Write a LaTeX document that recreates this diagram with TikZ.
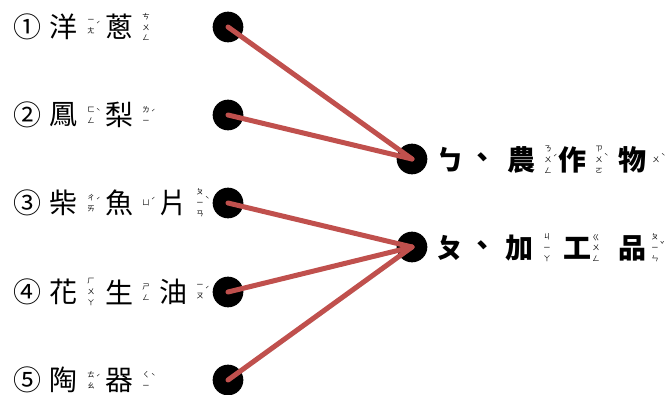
\documentclass[tikz,border=0pt]{standalone}
\usepackage{fontspec}
\usepackage{tikz}
\usetikzlibrary{calc}
\newfontfamily\cjk{Noto Sans CJK TC}
\definecolor{lnred}{rgb}{0.753,0.314,0.302}
\tikzstyle{every node}=[font=\cjk]
% one character, then its zhuyin stack and tone
\newcommand{\hz}[4]{\node [han] (#1) at (#2,#3) {#4};}
\newcommand{\zy}[5]{\node [zhu] (#1) at (#2,#3) {#4};
  \node [tonemark] (#1t) at ($(#1.east)+(1,-3)$) {#5};}

\begin{document}
\begin{tikzpicture}[line cap=round,line join=round,x=0.75pt,y=-0.75pt,
  han/.style={font=\cjk\fontsize{21}{21}\selectfont,inner sep=0pt},
  hanb/.style={han,font=\cjk\bfseries\fontsize{21}{21}\selectfont},
  zhu/.style={font=\cjk\fontsize{5.5}{8.2}\selectfont,align=center,inner sep=0pt},
  tonemark/.style={font=\cjk\fontsize{5.5}{7}\selectfont,anchor=west,inner sep=0pt},
  dot/.style={circle,fill=black,minimum size=23pt,inner sep=0pt},
  link/.style={line width=3.75pt,color=lnred,
    preaction={draw=black!45,opacity=.35,transform canvas={shift={(1.2pt,-1.2pt)}}}}]
\useasboundingbox (0,0) rectangle (671,395);
% left column
\hz{n1}{27}{27}{①} \hz{c11}{63}{27}{洋} \zy{z11}{91}{27}{ㄧ\\ㄤ}{ˊ} \hz{c12}{119}{27}{蔥} \zy{z12}{146}{27}{ㄘ\\ㄨ\\ㄥ}{}
\hz{n2}{27}{115}{②} \hz{c21}{63}{115}{鳳} \zy{z21}{91}{115}{ㄈ\\ㄥ}{ˋ} \hz{c22}{119}{115}{梨} \zy{z22}{146}{115}{ㄌ\\ㄧ}{ˊ}
\hz{n3}{27}{203}{③} \hz{c31}{63}{203}{柴} \zy{z31}{91}{203}{ㄔ\\ㄞ}{ˊ} \hz{c32}{119}{203}{魚} \zy{z32}{146}{203}{ㄩ}{ˊ}
\hz{c33}{173}{203}{片} \zy{z33}{200}{203}{ㄆ\\ㄧ\\ㄢ}{ˋ}
\hz{n4}{27}{292}{④} \hz{c41}{63}{292}{花} \zy{z41}{91}{292}{ㄏ\\ㄨ\\ㄚ}{} \hz{c42}{119}{292}{生} \zy{z42}{146}{292}{ㄕ\\ㄥ}{}
\hz{c43}{173}{292}{油} \zy{z43}{200}{292}{ㄧ\\ㄡ}{ˊ}
\hz{n5}{27}{380}{⑤} \hz{c51}{63}{380}{陶} \zy{z51}{91}{380}{ㄊ\\ㄠ}{ˊ} \hz{c52}{119}{380}{器} \zy{z52}{146}{380}{ㄑ\\ㄧ}{ˋ}
% right column
\node [hanb] (ka) at (450,160) {ㄅ}; \node [hanb] (ca) at (482,160) {、};
\node [hanb] (r11) at (521,160) {農}; \zy{y11}{548}{160}{ㄋ\\ㄨ\\ㄥ}{ˊ}
\node [hanb] (r12) at (572,160) {作}; \zy{y12}{599}{160}{ㄗ\\ㄨ\\ㄛ}{ˋ}
\node [hanb] (r13) at (632,160) {物}; \zy{y13}{656}{160}{ㄨ}{ˋ}
\node [hanb] (kb) at (450,248) {ㄆ}; \node [hanb] (cb) at (482,248) {、};
\node [hanb] (r21) at (519,248) {加}; \zy{y21}{547}{248}{ㄐ\\ㄧ\\ㄚ}{}
\node [hanb] (r22) at (577,248) {工}; \zy{y22}{596}{248}{ㄍ\\ㄨ\\ㄥ}{}
\node [hanb] (r23) at (632,248) {品}; \zy{y23}{655}{248}{ㄆ\\ㄧ\\ㄣ}{ˇ}
% dots
\node [dot] (d1) at (228,27) {};
\node [dot] (d2) at (228,115) {};
\node [dot] (d3) at (228,203) {};
\node [dot] (d4) at (228,292) {};
\node [dot] (d5) at (228,380) {};
\node [dot] (a) at (412,159) {};
\node [dot] (b) at (412,247) {};
% matching lines
\draw [link] (d1.center) -- (a.center);
\draw [link] (d2.center) -- (a.center);
\draw [link] (d3.center) -- (b.center);
\draw [link] (d4.center) -- (b.center);
\draw [link] (d5.center) -- (b.center);
\end{tikzpicture}
\end{document}
